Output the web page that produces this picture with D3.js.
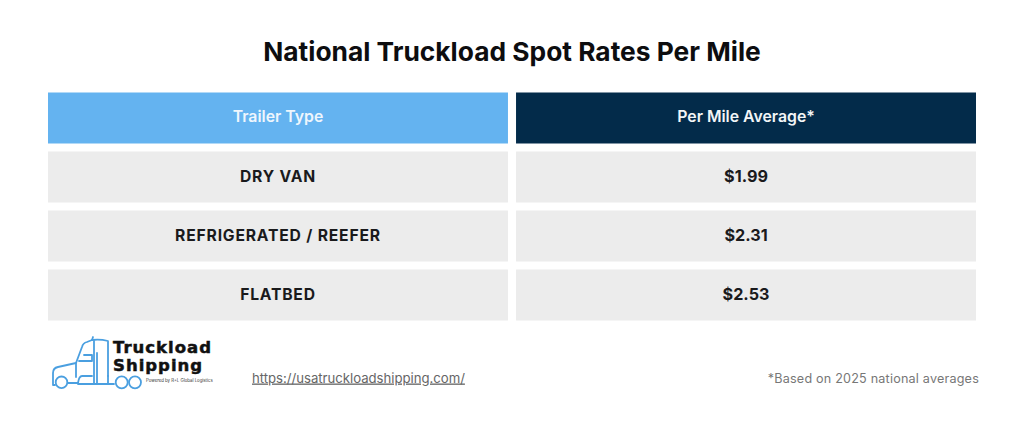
<!DOCTYPE html>
<html><head><meta charset="utf-8">
<script src="https://cdn.jsdelivr.net/npm/d3@7"></script>
<style>html,body{margin:0;padding:0;background:#fff}svg{display:block}text{font-family:Inter,"Noto Sans",sans-serif}</style>
</head><body><svg id="c" width="1024" height="427"></svg>
<script>
const titleText = "National Truckload Spot Rates Per Mile";
const columns = ["Trailer Type", "Per Mile Average*"];
const categories = ["DRY VAN", "REFRIGERATED / REEFER", "FLATBED"];
const rates = [1.99, 2.31, 2.53];
const linkText = "https://usatruckloadshipping.com/";
const noteText = "*Based on 2025 national averages";
const logoWords = ["Truckload", "Shipping"];
const logoTag = "Powered by R+L Global Logistics";

const svg = d3.select("#c");
const fmt = d3.format("$.2f");
const x = d3.scaleBand().domain(columns).range([48, 976]).paddingInner(8 / 464);
const y = d3.scaleBand().domain(["header", ...categories]).range([92.5, 320.5]).paddingInner(8 / 59);

svg.append("text").attr("x", 512).attr("y", 61).attr("text-anchor", "middle")
  .attr("font-size", 26.35).attr("font-weight", 700).attr("fill", "#0d0d0f").text(titleText);

svg.selectAll("rect.h").data(columns).join("rect").attr("class", "h")
  .attr("x", d => x(d)).attr("y", y("header")).attr("width", x.bandwidth()).attr("height", y.bandwidth())
  .attr("fill", (d, i) => i ? "#032b4a" : "#64b3f0");
svg.selectAll("text.h").data(columns).join("text").attr("class", "h")
  .attr("x", d => x(d) + x.bandwidth() / 2).attr("y", y("header") + y.bandwidth() / 2 + 4)
  .attr("text-anchor", "middle").attr("font-size", 15.8).attr("font-weight", 600)
  .attr("fill", (d, i) => i ? "#f2f5f7" : "#eef6fd").text(d => d);

const rows = categories.map((c, i) => ({c, r: rates[i]}));
const g = svg.selectAll("g.r").data(rows).join("g").attr("class", "r")
  .attr("transform", d => `translate(0,${y(d.c)})`);
g.selectAll("rect").data(d => columns.map(k => k)).join("rect")
  .attr("x", d => x(d)).attr("width", x.bandwidth()).attr("height", y.bandwidth()).attr("fill", "#ececec");
g.append("text").attr("x", x(columns[0]) + x.bandwidth() / 2).attr("y", y.bandwidth() / 2 + 4.5)
  .attr("text-anchor", "middle").attr("font-size", 15.7).attr("font-weight", 700).attr("letter-spacing", 0.8)
  .attr("fill", "#1a1a1c").text(d => d.c);
g.append("text").attr("x", x(columns[1]) + x.bandwidth() / 2).attr("y", y.bandwidth() / 2 + 4.5)
  .attr("text-anchor", "middle").attr("font-size", 16.2).attr("font-weight", 700)
  .attr("fill", "#1a1a1c").text(d => fmt(d.r));

// logo
const logo = svg.append("g").attr("fill", "none").attr("stroke", "#4a9fe0").attr("stroke-width", 1.8)
  .attr("stroke-linecap", "round").attr("stroke-linejoin", "round");
[
 "M55 385 H53 V373 Q53 368 58 367 L76 363 L82 347 Q83 343 87 342 L92 340 L93 337",
 "M92 340 Q100 339 108 341 V376",
 "M94 341 V384",
 "M97 353 V384",
 "M84 355 H92 V361 H79",
 "M76 363 V377",
 "M68 383 H78 Q79 376 82 376 H92",
 "M78 384 H112",
 "M108 376 V384 H114"
].forEach(d => logo.append("path").attr("d", d));
[[61.5,382.3,5.8],[121.7,382.3,6],[135,382.3,6]].forEach(c =>
  logo.append("circle").attr("cx", c[0]).attr("cy", c[1]).attr("r", c[2]));
svg.selectAll("text.l").data(logoWords).join("text").attr("class", "l")
  .attr("x", 113).attr("y", (d, i) => 352.5 + i * 18)
  .style("font-family", "'DejaVu Sans'")
  .attr("font-size", 16.5).attr("font-weight", 700).attr("letter-spacing", 1)
  .attr("stroke", "#111").attr("stroke-width", 0.5).attr("fill", "#111").text(d => d);
svg.append("text").attr("x", 146).attr("y", 382).attr("font-size", 4.3).attr("fill", "#333").text(logoTag);

svg.append("text").attr("x", 252).attr("y", 382.5).attr("font-size", 13.2).attr("fill", "#666")
  .attr("letter-spacing", -0.03).attr("text-decoration", "underline").text(linkText);
svg.append("text").attr("x", 979).attr("y", 382.5).attr("text-anchor", "end").attr("font-size", 12.6)
  .attr("fill", "#777").attr("letter-spacing", 0.2).text(noteText);
</script></body></html>
